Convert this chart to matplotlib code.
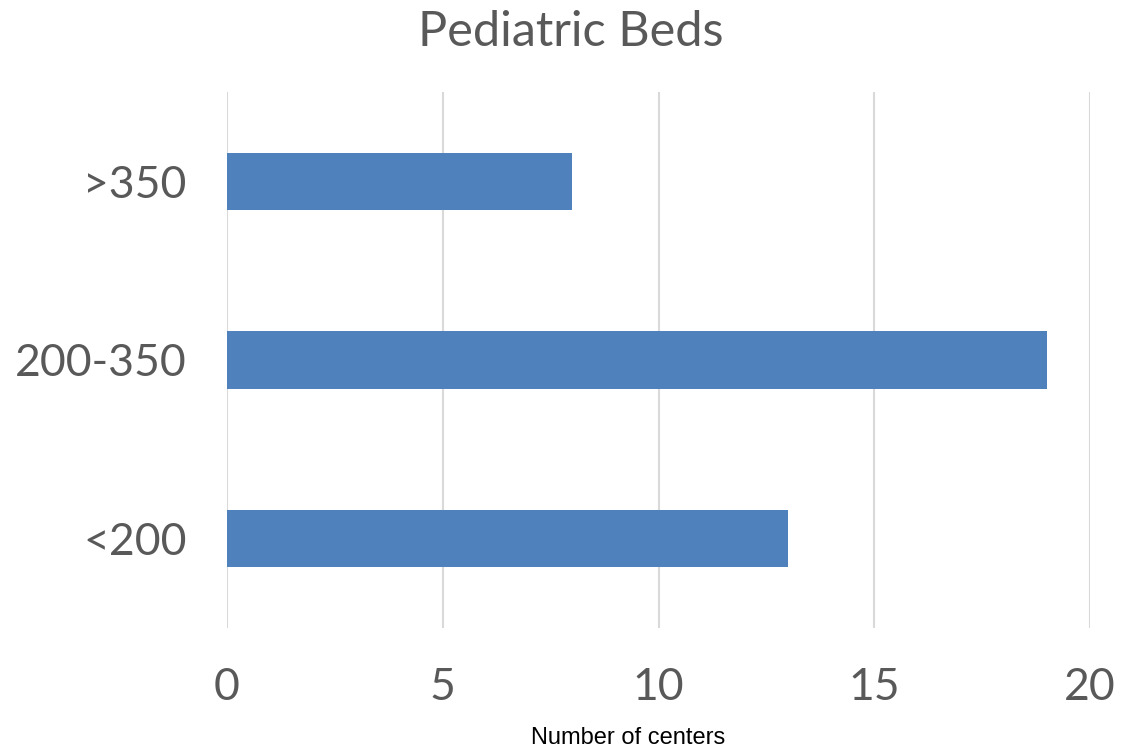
import matplotlib
matplotlib.use("Agg")
import matplotlib.pyplot as plt

# centers grouped by number of pediatric beds
categories = ["<200", "200-350", ">350"]
counts = [13, 19, 8]
x_ticks = [0, 5, 10, 15, 20]

bar_color = "#4f81bd"
text_gray = "#595959"

fig = plt.figure(figsize=(11.22, 7.52), dpi=100)
ax = fig.add_axes([0.2023, 0.1649, 0.7692, 0.7128])

ax.barh(range(len(categories)), counts, height=0.32, color=bar_color, zorder=3)

ax.set_xlim(0, 20)
ax.set_ylim(-0.5, len(categories) - 0.5)
ax.set_xticks(x_ticks)
ax.set_yticks(range(len(categories)))
ax.set_yticklabels(categories)
ax.grid(axis="x", color="#d9d9d9", linewidth=1.5, zorder=0)
ax.set_axisbelow(True)

for s in ax.spines.values():
    s.set_visible(False)
ax.tick_params(axis="both", length=0, labelsize=32, labelcolor=text_gray)
ax.tick_params(axis="x", pad=28)
ax.tick_params(axis="y", pad=29)
for lbl in ax.get_xticklabels() + ax.get_yticklabels():
    lbl.set_family("Lato")

fig.text(0.509, 0.958, "Pediatric Beds", ha="center", va="center",
         fontsize=35, color=text_gray, family="Lato")
fig.text(0.560, 0.004, "Number of centers", ha="center", va="bottom",
         fontsize=17, color="black", family="Liberation Sans")

fig.savefig("out.png", dpi=100)
